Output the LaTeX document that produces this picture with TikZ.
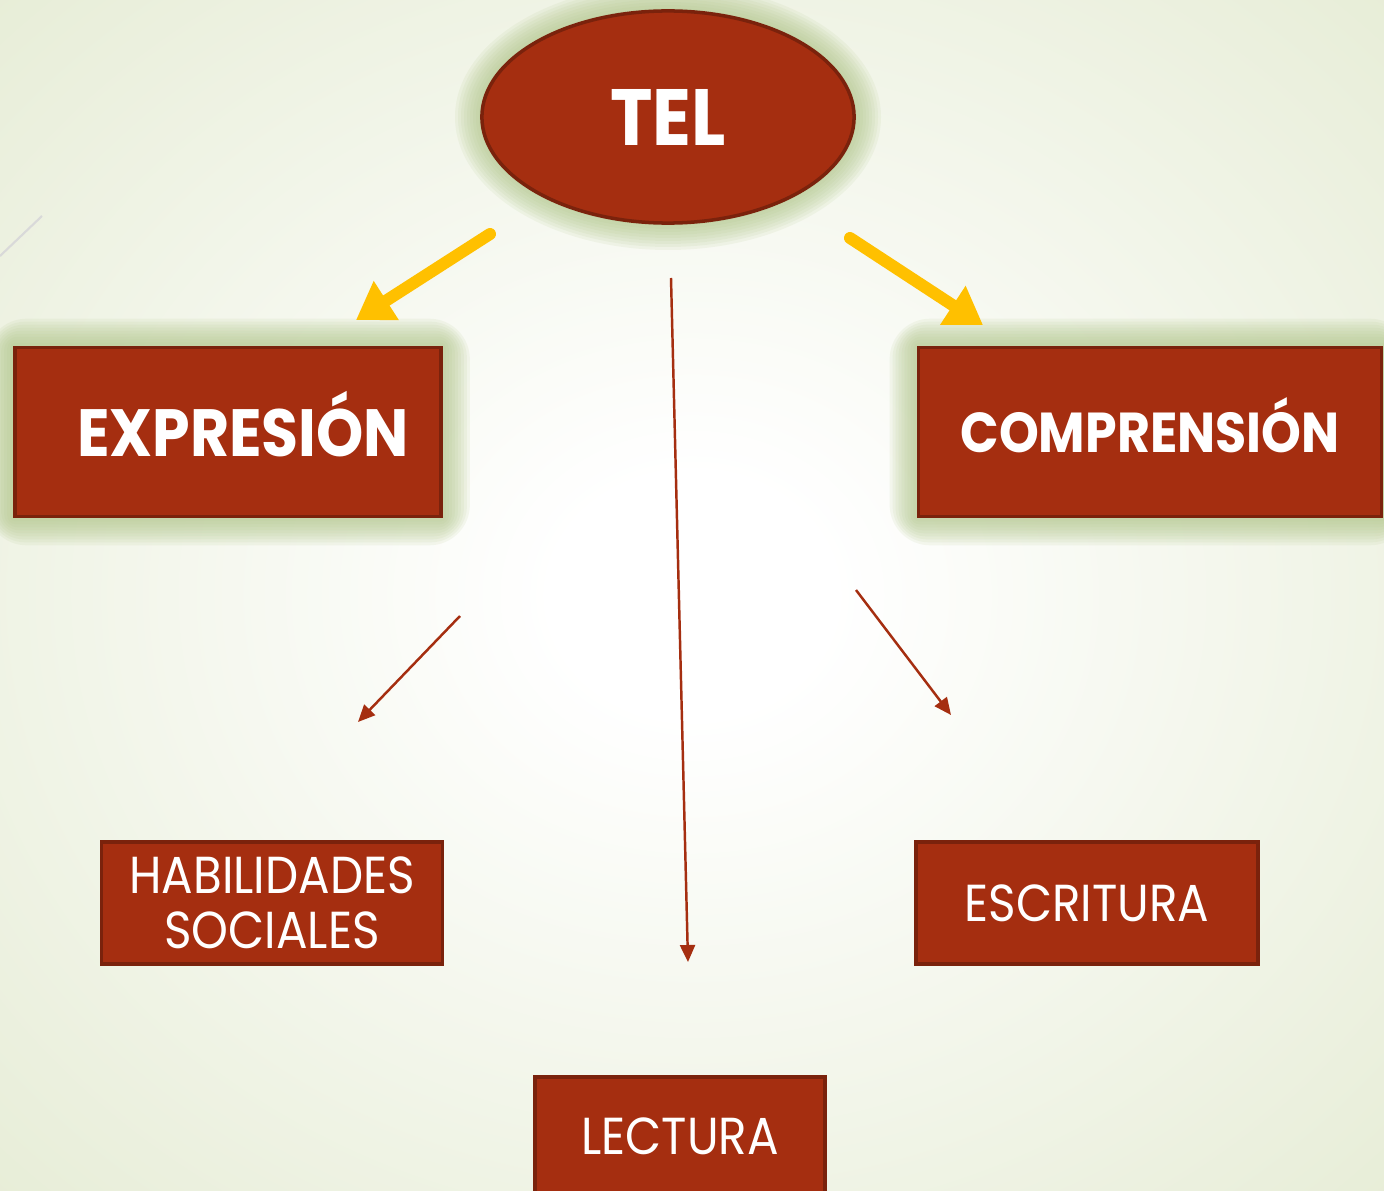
\documentclass[tikz,border=0pt]{standalone}
\usepackage{fontspec}
\setmainfont[FakeStretch=0.9]{Poppins}
\usetikzlibrary{shapes.geometric,arrows.meta,backgrounds,calc}
\definecolor{brick}{RGB}{165,46,16}
\definecolor{brickline}{RGB}{122,34,12}
\definecolor{glowgreen}{RGB}{178,199,140}
\definecolor{gold}{RGB}{255,192,0}
\definecolor{paper}{RGB}{231,237,215}
\pgfdeclareradialshading{slidebg}{\pgfpoint{0bp}{0bp}}{color(0bp)=(white); color(5bp)=(white); color(36bp)=(paper); color(50bp)=(paper)}

\begin{document}
\begin{tikzpicture}[x=0.01cm,y=-0.01cm,
	box/.style={rectangle,fill=brick,draw=brickline,line width=1pt,text=white,inner sep=0pt,minimum height=1.69cm},
	small/.style={box,minimum height=1.22cm,font=\fontsize{14.8}{15.6}\selectfont,align=center},
	big/.style={-{Triangle[width=0.44cm,length=0.36cm]},gold,line width=0.12cm,line cap=round},
	thin/.style={-{Triangle[width=0.15cm,length=0.17cm]},brick,line width=0.7pt}]
	\useasboundingbox (0,0) rectangle (1384,1191);
	\begin{scope}[on background layer]
		\shade[shading=slidebg] (0,0) rectangle (1384,1191);
		\draw[black!15,line width=0.6pt] (0,256) -- (42,216);
	\end{scope}

	\node[ellipse,fill=brick,draw=brickline,line width=1pt,minimum width=3.72cm,minimum height=2.12cm,inner sep=0pt,text=white,font=\fontsize{22.7}{27}\selectfont\bfseries] (tel) at (668,117) {TEL};
	\node[box,minimum width=4.26cm,text height=0.48cm,text depth=0pt,font=\fontsize{19}{23}\selectfont\bfseries] (exp) at (228,432) {\hspace*{0.3cm}EXPRESIÓN};
	\node[box,minimum width=4.63cm,text height=0.41cm,text depth=0pt,font=\fontsize{16}{20}\selectfont\bfseries] (com) at (1150,432) {COMPRENSIÓN};
	\node[small,minimum width=3.41cm] (hab) at (272,903) {HABILIDADES\\SOCIALES};
	\node[small,minimum width=3.42cm] (esc) at (1087,903) {ESCRITURA};
	\node[small,minimum width=2.90cm] (lec) at (680,1138) {\raisebox{0.04cm}{LECTURA}};

	\begin{scope}[on background layer]
		\foreach \g in {3,6,...,27}{
			\fill[glowgreen,opacity=.12] (tel.center) ellipse ({(186+\g)*0.01cm} and {(106+\g)*0.01cm});
			\foreach \n in {exp,com}
				\fill[glowgreen,opacity=.12,rounded corners=0.015cm*\g] ($(\n.south west)+(-\g,\g)$) rectangle ($(\n.north east)+(\g,-\g)$);
		}
	\end{scope}

	% free ends of the arrows
	\coordinate (y1) at (490,234);
	\coordinate (y2) at (356,320);
	\coordinate (y3) at (850,238);
	\coordinate (y4) at (983,325);
	\coordinate (a1) at (460,616);
	\coordinate (a2) at (358,722);
	\coordinate (b1) at (856,590);
	\coordinate (b2) at (951,715);
	\coordinate (c1) at (671,278);
	\coordinate (c2) at (688,962);

	\draw[big] (y1) -- (y2);
	\draw[big] (y3) -- (y4);
	\draw[thin] (a1) -- (a2);
	\draw[thin] (b1) -- (b2);
	\draw[thin] (c1) -- (c2);
\end{tikzpicture}
\end{document}
